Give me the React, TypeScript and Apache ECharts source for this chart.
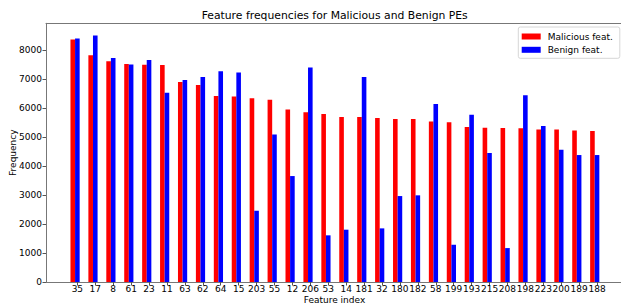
import React, { useEffect, useRef } from "react";
import * as echarts from "echarts";

const categories = ["35","17","8","61","23","11","63","62","64","15","203","55","12","206","53","14","181","32","180","182","58","199","193","215","208","198","223","200","189","188"];
const maliciousValues = [8370,7820,7620,7520,7495,7490,6900,6795,6415,6400,6335,6290,5955,5860,5795,5690,5690,5655,5620,5620,5540,5515,5345,5320,5310,5300,5265,5260,5230,5210];
const benignValues = [8400,8500,7725,7505,7655,6530,6965,7070,7275,7230,2460,5090,3655,7400,1610,1805,7070,1850,2965,2990,6140,1285,5770,4450,1170,6440,5380,4565,4380,4380];
const yTicks = [0,1000,2000,3000,4000,5000,6000,7000,8000];

const FONT = "DejaVu Sans";
const FS = 9;

export default function App() {
  const ref = useRef<HTMLDivElement>(null);
  useEffect(() => {
    if (!ref.current) return;
    const chart = echarts.init(ref.current, undefined, { renderer: "svg" });
    const spine = { show: true, lineStyle: { color: "#777", width: 1 } };
    const yMax = 8925;
    chart.setOption({
      animation: false,
      backgroundColor: "#fff",
      title: {
        text: "Feature frequencies for Malicious and Benign PEs",
        left: 334.7,
        top: 9.5,
        padding: 0,
        textAlign: "center",
        textStyle: { fontFamily: FONT, fontSize: 10.8, fontWeight: "normal", color: "#000" },
      },
      legend: {
        data: ["Malicious feat.", "Benign feat."],
        orient: "vertical",
        left: 521.7,
        top: 30.5,
        padding: 0,
        itemWidth: 19,
        itemHeight: 6,
        itemGap: 1.3,
        icon: "rect",
        textStyle: { fontFamily: FONT, fontSize: FS, color: "#000", lineHeight: 12, padding: [0, 0, 0, 2] },
      },
      graphic: [
        {
          type: "rect",
          z: 1,
          shape: { x: 518.3, y: 27, width: 101.5, height: 31.3, r: 2 },
          style: { fill: "rgba(255,255,255,0.8)", stroke: "#d6d6d6", lineWidth: 1 },
        },
      ],
      grid: [
        { left: 46, width: 577, top: 23.3, height: 258.7, show: false, outerBoundsMode: "none", containLabel: false },
        { left: 68.4, width: 537.6, top: 23.3, height: 258.7, show: false, outerBoundsMode: "none", containLabel: false },
      ],
      xAxis: [
        {
          type: "value", gridIndex: 0, min: 0, max: 1, position: "bottom",
          axisLine: spine, axisTick: { show: false }, axisLabel: { show: false }, splitLine: { show: false },
          name: "Feature index", nameLocation: "middle", nameGap: 18, nameMoveOverlap: false,
          nameTextStyle: { fontFamily: FONT, fontSize: FS, color: "#000", verticalAlign: "middle" },
        },
        {
          type: "value", gridIndex: 0, min: 0, max: 1, position: "top",
          axisLine: spine, axisTick: { show: false }, axisLabel: { show: false }, splitLine: { show: false },
        },
        {
          type: "category", gridIndex: 1, data: categories, position: "bottom",
          axisLine: { show: false },
          axisTick: { show: true, alignWithLabel: true, length: 3.5, lineStyle: { color: "#555" } },
          axisLabel: { interval: 0, hideOverlap: false, margin: 2.5, fontFamily: FONT, fontSize: FS, color: "#000" },
          splitLine: { show: false },
        },
      ],
      yAxis: [
        {
          type: "value", gridIndex: 0, min: 0, max: yMax, interval: 1000,
          axisLine: spine,
          axisTick: { show: true, length: 3.5, lineStyle: { color: "#555" }, customValues: yTicks },
          axisLabel: {
            margin: 4, fontFamily: FONT, fontSize: FS, color: "#000", customValues: yTicks,
            formatter: (v: number) => String(v),
          },
          splitLine: { show: false },
          name: "Frequency", nameLocation: "middle", nameGap: 28.5, nameMoveOverlap: false,
          nameTextStyle: { fontFamily: FONT, fontSize: FS, color: "#000" },
        },
        { type: "value", gridIndex: 1, min: 0, max: yMax, show: false },
      ],
      series: [
        {
          name: "Malicious feat.", type: "bar", xAxisIndex: 2, yAxisIndex: 1,
          data: maliciousValues, barWidth: 4.6, barGap: "0%",
          itemStyle: { color: "#ff0000" },
        },
        {
          name: "Benign feat.", type: "bar", xAxisIndex: 2, yAxisIndex: 1,
          data: benignValues, barWidth: 4.6, barGap: "0%",
          itemStyle: { color: "#0000ff" },
        },
        {
          name: "spacer", type: "bar", xAxisIndex: 2, yAxisIndex: 1,
          data: categories.map(() => "-"), barWidth: 4.6, barGap: "0%",
          itemStyle: { color: "transparent" },
        },
      ],
    });
    return () => chart.dispose();
  }, []);
  return (
    <div
      ref={ref}
      style={{ position: "fixed", left: 0, top: 0, width: 621, height: 303 }}
    />
  );
}
